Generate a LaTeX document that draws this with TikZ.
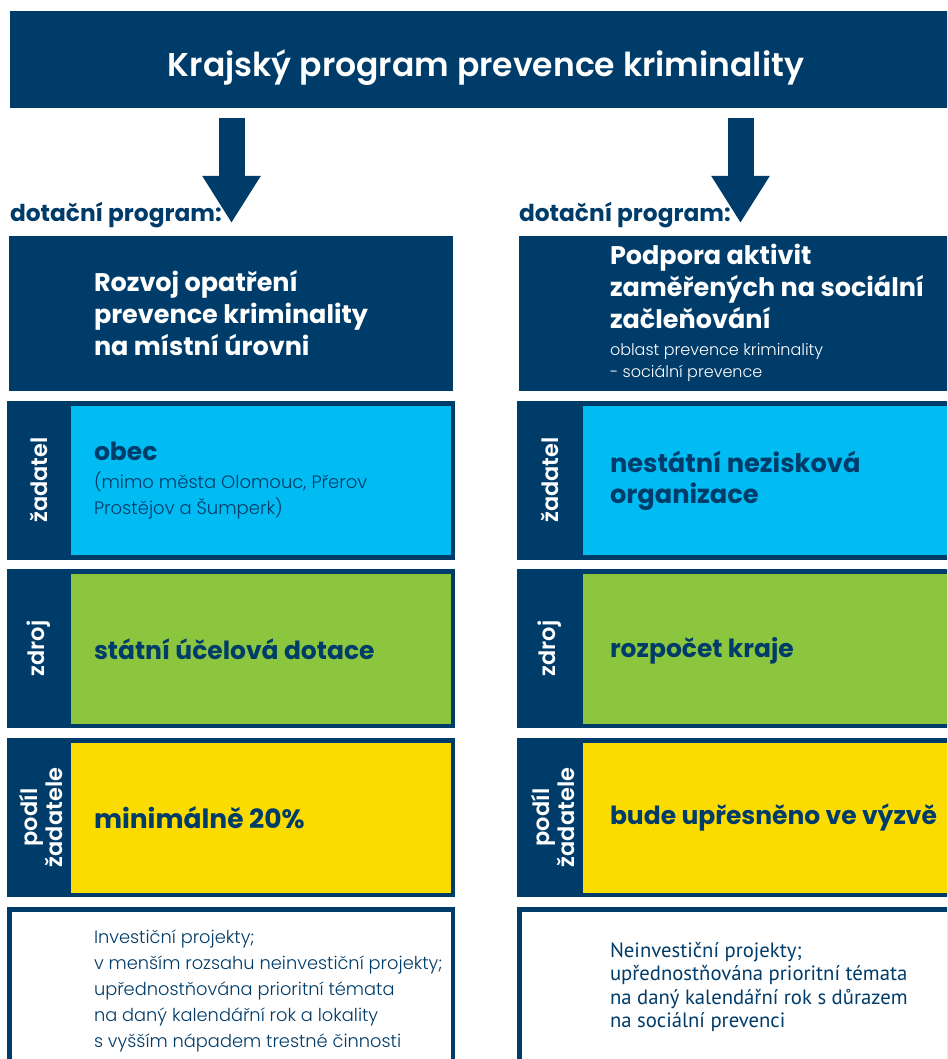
\documentclass[tikz,border=0pt]{standalone}
\usepackage{fontspec}
\setmainfont{Poppins}
\newfontfamily\fsb{Poppins SemiBold}
\newfontfamily\fl{Poppins Light}
\newfontfamily\fpt{PT Sans}
\usetikzlibrary{arrows.meta}
\definecolor{navy}{RGB}{0,60,105}
\definecolor{cyanb}{RGB}{0,188,242}
\definecolor{greenb}{RGB}{140,198,63}
\definecolor{yellowb}{RGB}{252,220,0}
\newcommand\fz[2]{\fontsize{#1}{#2}\selectfont}
\newcommand\vl[2]{\vtop{\baselineskip=#1pt\lineskiplimit=-100pt\lineskip=0pt\halign{##\hfil\cr#2\crcr}}}
\begin{document}
\begin{tikzpicture}[x=1pt,y=-1pt,
  every node/.style={inner sep=0pt, outer sep=0pt},
  blk/.style={fill=#1, draw=none, anchor=north west},
  txt/.style={anchor=base west, text=navy},
  htxt/.style={txt, font=\bfseries\fz{25}{25}},
  ltxt/.style={txt, font=\fl\fz{18}{18}},
  lab/.style={rotate=90, text=white, font=\fsb\fz{22.5}{22.5}, align=center},
  bigarrow/.style={draw=navy, line width=26pt, -{Triangle[width=55pt,length=47pt]}}]
\useasboundingbox (0,0) rectangle (947,1059);
\clip (0,0) rectangle (947,1059);

% banner
\node[blk=navy, minimum width=945pt, minimum height=97pt] (banner) at (10,11) {};
\node[anchor=base, text=white, font=\fsb\fz{33}{33}] (title) at (486,77) {Krajský program prevence kriminality};

% arrows
\coordinate (aL0) at (231.5,118);
\coordinate (aL1) at (231.5,223);
\coordinate (aR0) at (740.5,118);
\coordinate (aR1) at (740.5,223);
\draw[bigarrow] (aL0) -- (aL1);
\draw[bigarrow] (aR0) -- (aR1);

% dotacni program
\node[txt, font=\bfseries\fz{23.3}{23.3}] (dpL) at (10,222) {dotační program:};
\node[txt, font=\bfseries\fz{23.3}{23.3}] (dpR) at (519,222) {dotační program:};

% program boxes
\node[blk=navy, minimum width=444pt, minimum height=155pt] (progL) at (9,236) {};
\node[blk=navy, minimum width=440pt, minimum height=155pt] (progR) at (519,236) {};
\node[txt, text=white, font=\bfseries\fz{25.5}{25.5}] (progLt) at (94,291)
  {\vl{32}{Rozvoj opatření\cr prevence kriminality\cr na místní úrovni}};
\node[txt, text=white, font=\bfseries\fz{25.5}{25.5}] (progRt) at (610,265)
  {\vl{31.5}{Podpora aktivit\cr zaměřených na sociální\cr začleňování}};
\node[txt, text=white, font=\fl\fz{16}{16}] (progRs) at (610,355)
  {\vl{22}{oblast prevence kriminality\cr - sociální prevence}};

% row: zadatel
\node[blk=navy, minimum width=448pt, minimum height=159pt] (zLo) at (7,401) {};
\node[blk=cyanb, minimum width=380pt, minimum height=149pt] (zLi) at (71,406) {};
\node[blk=navy, minimum width=440pt, minimum height=159pt] (zRo) at (517,401) {};
\node[blk=cyanb, minimum width=370pt, minimum height=149pt] (zRi) at (583,406) {};
\node[lab] (zLl) at (39,480) {žadatel};
\node[lab] (zRl) at (550,480) {žadatel};
\node[htxt] (zLt) at (94,460) {obec};
\node[ltxt] (zLs) at (94,488) {\vl{26}{(mimo města Olomouc, Přerov\cr Prostějov a Šumperk)}};
\node[htxt, font=\bfseries\fz{25.7}{25.7}] (zRt) at (610,472) {\vl{31}{nestátní nezisková\cr organizace}};

% row: zdroj
\node[blk=navy, minimum width=448pt, minimum height=159pt] (sLo) at (7,569) {};
\node[blk=greenb, minimum width=380pt, minimum height=150pt] (sLi) at (71,574) {};
\node[blk=navy, minimum width=440pt, minimum height=159pt] (sRo) at (517,569) {};
\node[blk=greenb, minimum width=370pt, minimum height=150pt] (sRi) at (583,574) {};
\node[lab] (sLl) at (39,648.5) {zdroj};
\node[lab] (sRl) at (550,648.5) {zdroj};
\node[htxt] (sLt) at (94,659) {státní účelová dotace};
\node[htxt] (sRt) at (610,657) {rozpočet kraje};

% row: podil zadatele
\node[blk=navy, minimum width=448pt, minimum height=159pt] (pLo) at (7,738) {};
\node[blk=yellowb, minimum width=380pt, minimum height=150pt] (pLi) at (71,743) {};
\node[blk=navy, minimum width=440pt, minimum height=159pt] (pRo) at (517,738) {};
\node[blk=yellowb, minimum width=370pt, minimum height=150pt] (pRi) at (583,743) {};
\node[lab, font=\fsb\fz{22.5}{25}] (pLl) at (41,817.5) {podíl\\žadatele};
\node[lab, font=\fsb\fz{22.5}{25}] (pRl) at (553,817.5) {podíl\\žadatele};
\node[htxt, font=\bfseries\fz{26.5}{26.5}] (pLt) at (94,828) {minimálně 20\%};
\node[htxt] (pRt) at (610,824) {bude upřesněno ve výzvě};

% bottom boxes
\node[blk=navy, minimum width=448pt, minimum height=200pt] (bLo) at (7,907) {};
\node[blk=white, minimum width=439pt, minimum height=200pt] (bLi) at (12,912) {};
\node[blk=navy, minimum width=440pt, minimum height=200pt] (bRo) at (517,907) {};
\node[blk=white, minimum width=440pt, minimum height=200pt] (bRi) at (522,912) {};
\node[ltxt, font=\fl\fz{17.8}{17.8}] (bLt) at (94,943) {\vl{26.2}{Investiční projekty;\cr v menším rozsahu neinvestiční projekty;\cr upřednostňována prioritní témata\cr na daný kalendářní rok a lokality\cr s vyšším nápadem trestné činnosti}};
\node[txt, font=\fpt\fz{20.7}{20.7}] (bRt) at (610,957) {\vl{23.5}{Neinvestiční projekty;\cr upřednostňována prioritní témata\cr na daný kalendářní rok s důrazem\cr na sociální prevenci}};
\end{tikzpicture}
\end{document}
